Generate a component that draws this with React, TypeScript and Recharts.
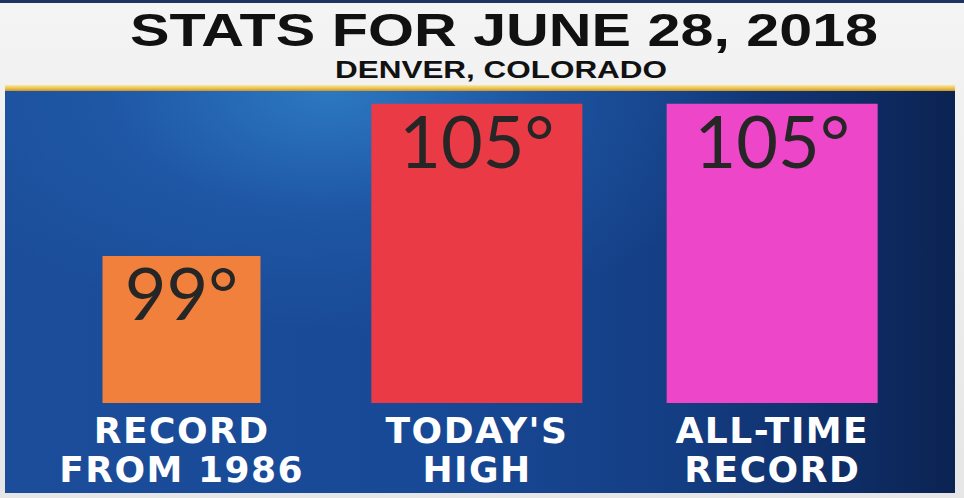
import React from "react"
import { BarChart, Bar, XAxis, YAxis, Cell, LabelList, Rectangle } from "recharts"

// chart values
const categories = ["RECORD FROM 1986", "TODAY'S HIGH", "ALL-TIME RECORD"]
const temps = [99, 105, 105]
const tickLines = [
  ["RECORD", "FROM 1986"],
  ["TODAY'S", "HIGH"],
  ["ALL-TIME", "RECORD"],
]

const TITLE = "STATS FOR JUNE 28, 2018"
const SUBTITLE = "DENVER, COLORADO"

const BAR_COLORS = ["#f0803c", "#ea3a46", "#ee46c9"]
const BAR_SIZE = 211
const BAR_WIDTH_FACTOR = [158 / 211, 1, 1]

const data = categories.map((c, i) => ({ name: c, temp: temps[i], idx: i }))

function BarShape(props: any) {
  const { x, y, width, height, index, fill } = props
  const w = width * (BAR_WIDTH_FACTOR[index] ?? 1)
  return <Rectangle x={x + (width - w) / 2} y={y} width={w} height={height} fill={fill} />
}

function ValueLabel(props: any) {
  const { x, y, width, value } = props
  return (
    <text
      x={x + width / 2}
      y={y + 64}
      textAnchor="middle"
      fill="#262626"
      fontSize={72}
      fontFamily="Lato, 'Open Sans', sans-serif"
      fontWeight={400}
    >
      {value}°
    </text>
  )
}

function CategoryTick(props: any) {
  const { x, y, index } = props
  const lines = tickLines[index] || []
  return (
    <text
      x={x}
      y={y}
      textAnchor="middle"
      fill="#ffffff"
      fontSize={36}
      fontWeight={700}
      letterSpacing={1.5}
      fontFamily="'DejaVu Sans', sans-serif"
    >
      {lines.map((l, i) => (
        <tspan key={i} x={x} dy={i === 0 ? 40 : 39}>
          {l}
        </tspan>
      ))}
    </text>
  )
}

export default function App() {
  return (
    <div
      style={{
        position: "fixed",
        left: 0,
        top: 0,
        width: 964,
        height: 498,
        overflow: "hidden",
        background: "linear-gradient(180deg, #f4f4f4 0%, #e6e6e6 100%)",
      }}
    >
      <div style={{ position: "absolute", left: 0, top: 0, width: 964, height: 3, background: "#1b3560" }} />
      <svg width={964} height={85} style={{ position: "absolute", left: 0, top: 0 }}>
        <text
          x={504}
          y={46}
          textAnchor="middle"
          fontSize={47}
          fontWeight={700}
          fontFamily="'Liberation Sans Narrow', 'Liberation Sans', sans-serif"
          fill="#111"
          textLength={748}
          lengthAdjust="spacingAndGlyphs"
        >
          {TITLE}
        </text>
        <text
          x={501}
          y={78}
          textAnchor="middle"
          fontSize={24}
          fontWeight={700}
          fontFamily="'Liberation Sans Narrow', 'Liberation Sans', sans-serif"
          fill="#111"
          textLength={332}
          lengthAdjust="spacingAndGlyphs"
        >
          {SUBTITLE}
        </text>
      </svg>
      <div
        style={{
          position: "absolute",
          left: 5,
          top: 85,
          width: 950,
          height: 6,
          background: "linear-gradient(180deg, #fbeaa0 0%, #e9bd4a 60%, #c8962c 100%)",
        }}
      />
      <div
        style={{
          position: "absolute",
          left: 5,
          top: 91,
          width: 950,
          height: 402,
          background:
            "radial-gradient(ellipse 45% 60% at 34% 0%, rgba(48,128,200,0.85) 0%, rgba(40,110,190,0.35) 50%, rgba(30,90,170,0) 100%), " +
            "linear-gradient(90deg, #1b4d9a 0%, #184996 45%, #143e84 70%, #0f2e68 88%, #0b2352 100%)",
        }}
      />
      <div style={{ position: "absolute", left: 0, top: 0 }}>
        <BarChart
          width={964}
          height={498}
          data={data}
          margin={{ top: 91, right: 44, bottom: 0, left: 34 }}
          barCategoryGap={0}
        >
          <XAxis
            dataKey="name"
            height={95}
            axisLine={false}
            tickLine={false}
            tickSize={0}
            tickMargin={0}
            interval={0}
            tick={<CategoryTick />}
          />
          <YAxis hide domain={[93.2, 105.5]} allowDataOverflow />
          <Bar dataKey="temp" barSize={BAR_SIZE} shape={<BarShape />} isAnimationActive={false}>
            {data.map((d, i) => (
              <Cell key={i} fill={BAR_COLORS[i]} />
            ))}
            <LabelList dataKey="temp" content={<ValueLabel />} />
          </Bar>
        </BarChart>
      </div>
    </div>
  )
}
